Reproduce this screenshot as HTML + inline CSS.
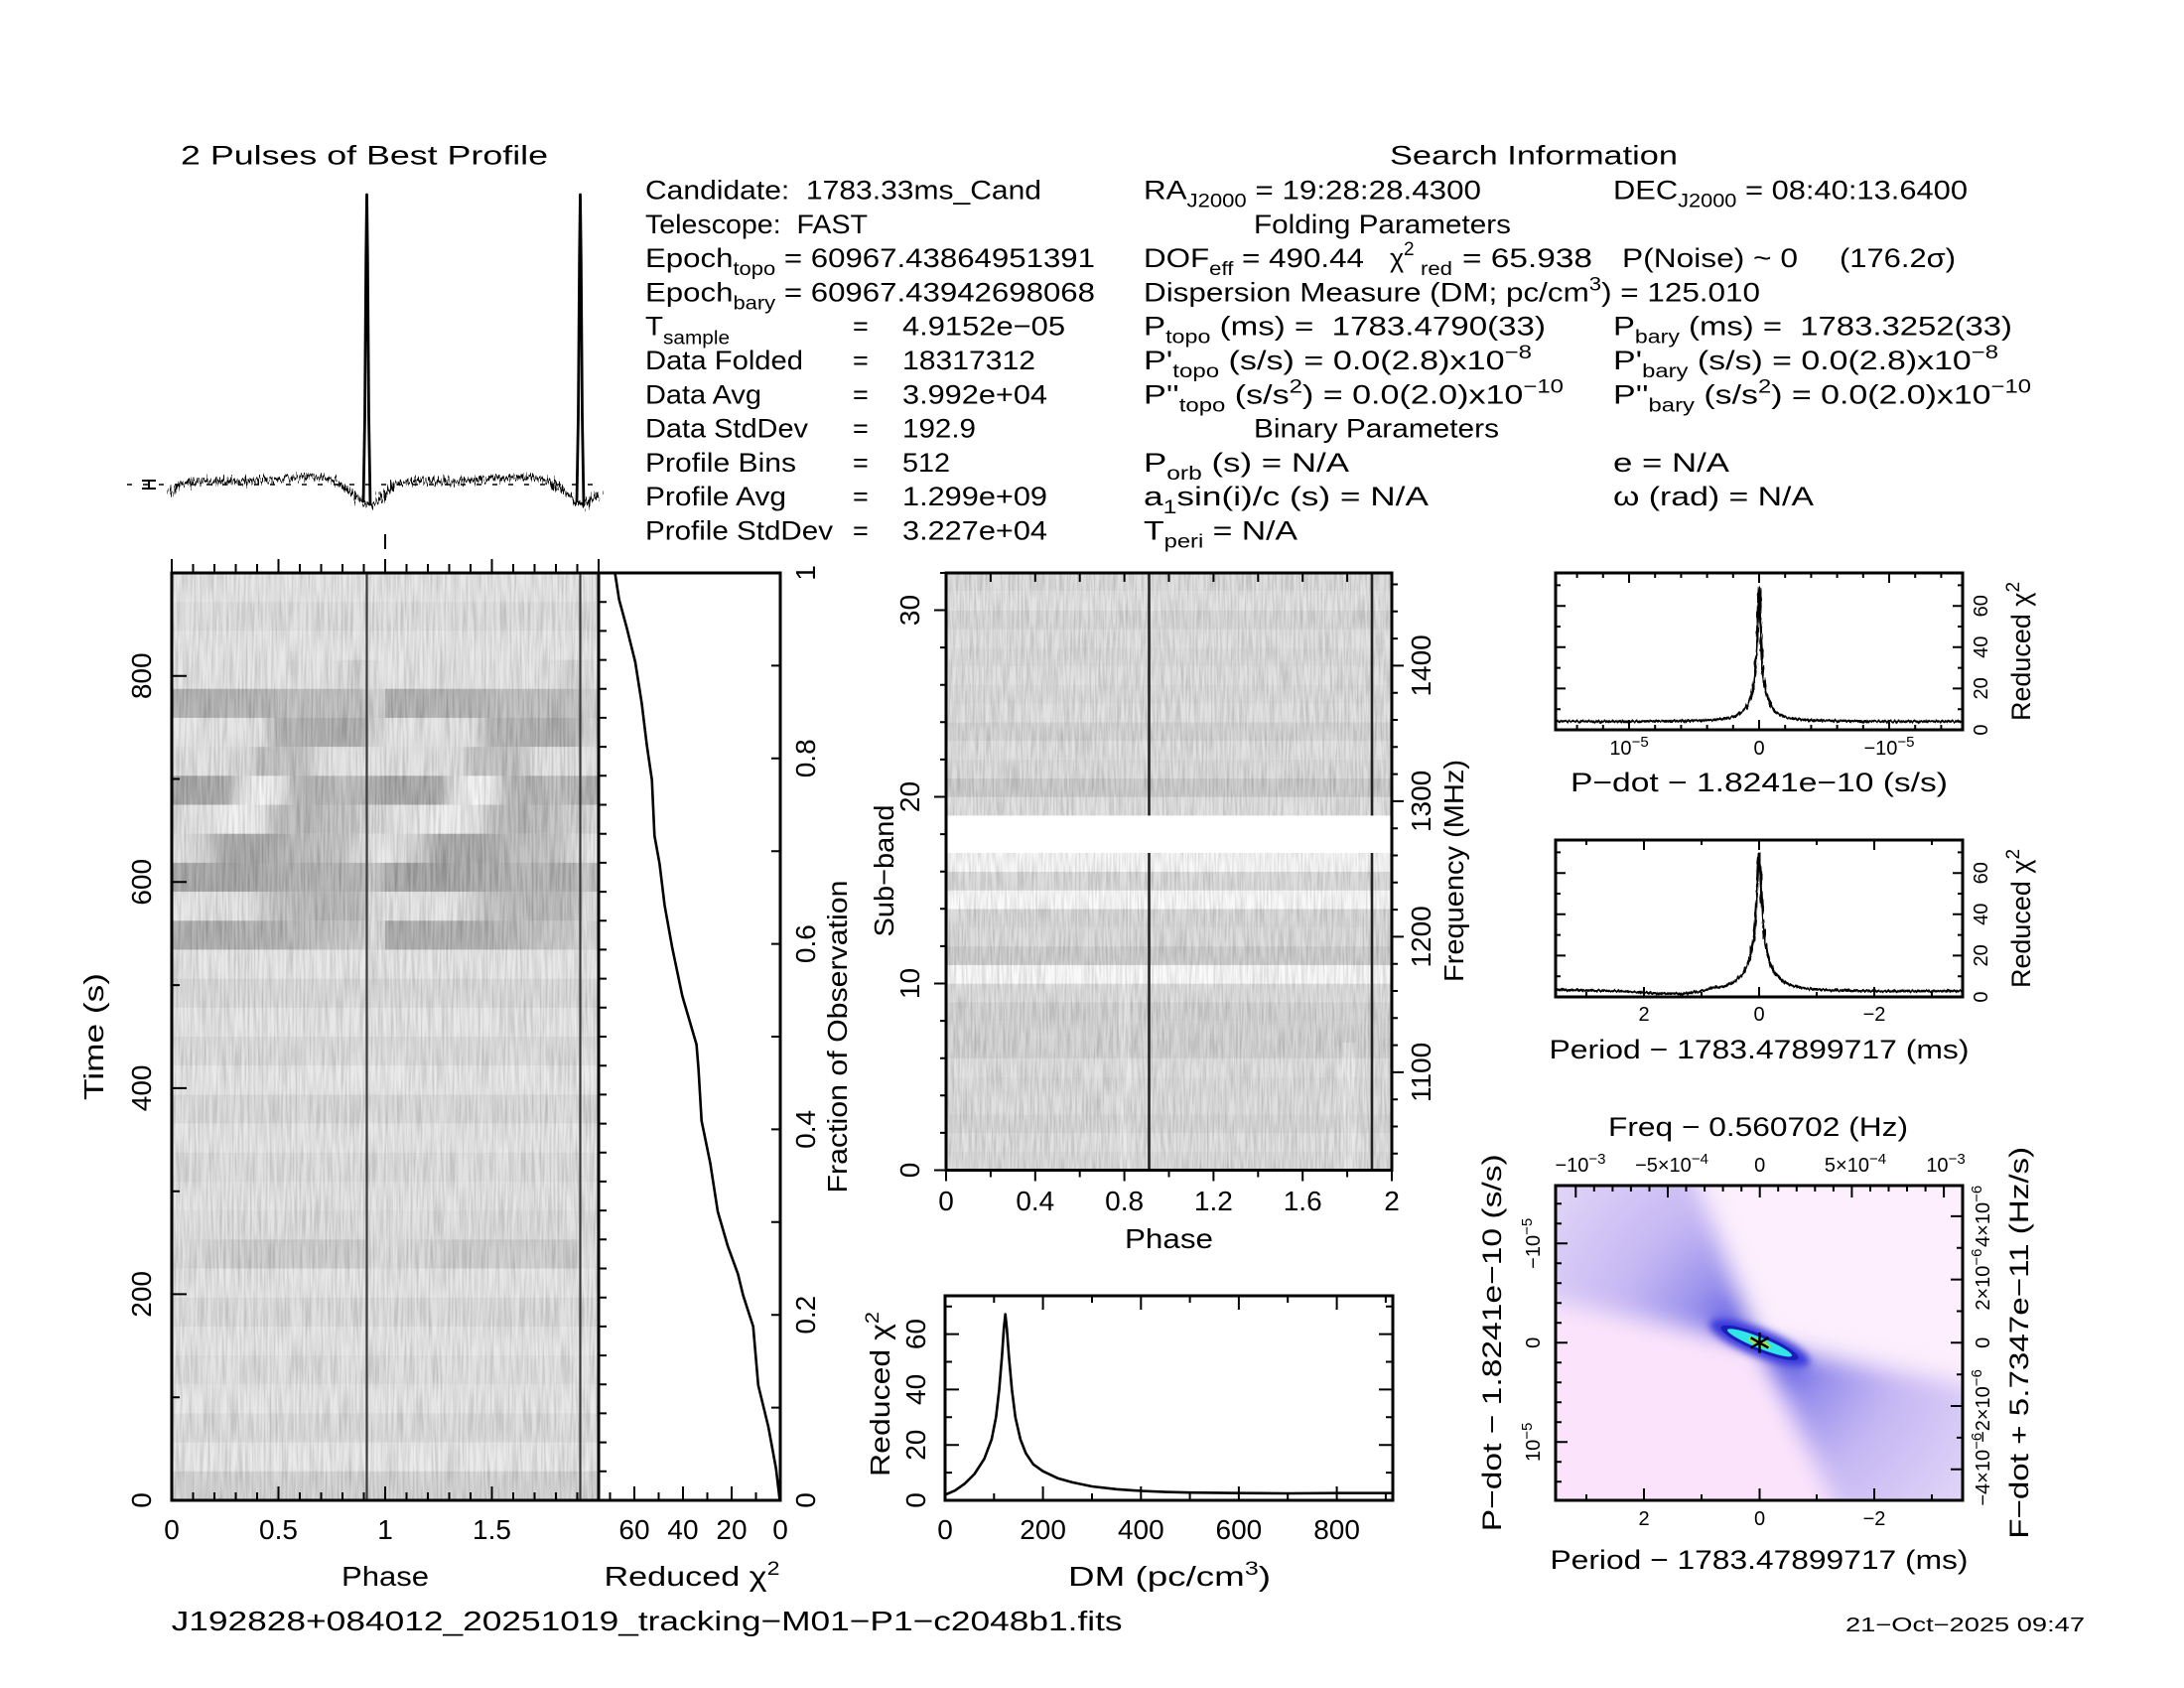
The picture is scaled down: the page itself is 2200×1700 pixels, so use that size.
<!DOCTYPE html>
<html><head><meta charset="utf-8">
<style>
html,body{margin:0;padding:0;background:#fff;}
svg{display:block;}
text{font-family:"Liberation Sans",sans-serif;white-space:pre;fill:#000;}
</style></head><body>
<svg width="2200" height="1700" viewBox="0 0 2200 1700" xmlns="http://www.w3.org/2000/svg">
<defs>
<filter id="stk" x="0" y="0" width="100%" height="100%" color-interpolation-filters="sRGB">
 <feTurbulence type="fractalNoise" baseFrequency="0.5 0.02" numOctaves="2" seed="11"/>
 <feColorMatrix type="matrix" values="1.3 0 0 0 0.15  1.3 0 0 0 0.15  1.3 0 0 0 0.15  0 0 0 0 0.22"/>
</filter>
<filter id="stk2" x="0" y="0" width="100%" height="100%" color-interpolation-filters="sRGB">
 <feTurbulence type="fractalNoise" baseFrequency="0.55 0.03" numOctaves="2" seed="5"/>
 <feColorMatrix type="matrix" values="1.3 0 0 0 0.15  1.3 0 0 0 0.15  1.3 0 0 0 0.15  0 0 0 0 0.22"/>
</filter>
<filter id="jit" x="-2%" y="-80%" width="104%" height="260%" color-interpolation-filters="sRGB">
 <feTurbulence type="fractalNoise" baseFrequency="0.6 0.08" numOctaves="2" seed="4" result="t"/>
 <feDisplacementMap in="SourceGraphic" in2="t" scale="17" xChannelSelector="G" yChannelSelector="R"/>
</filter>
<filter id="jit2" x="-2%" y="-60%" width="104%" height="220%" color-interpolation-filters="sRGB">
 <feTurbulence type="fractalNoise" baseFrequency="0.5 0.08" numOctaves="2" seed="9" result="t"/>
 <feDisplacementMap in="SourceGraphic" in2="t" scale="4" xChannelSelector="G" yChannelSelector="R"/>
</filter>
<filter id="blur8" x="-30%" y="-30%" width="160%" height="160%"><feGaussianBlur stdDeviation="12"/></filter>
<filter id="blur3" x="-30%" y="-60%" width="160%" height="220%"><feGaussianBlur stdDeviation="4"/></filter>
<clipPath id="cpc"><rect x="1567" y="1194" width="410" height="317"/></clipPath>
<radialGradient id="lobe" gradientUnits="userSpaceOnUse" cx="1772.5" cy="1352.3" r="280">
 <stop offset="0" stop-color="#2828d4"/>
 <stop offset="0.1" stop-color="#5454e0"/>
 <stop offset="0.25" stop-color="#968eec"/>
 <stop offset="0.5" stop-color="#c4b6f3"/>
 <stop offset="1" stop-color="#e6dbf8"/>
</radialGradient>
<linearGradient id="r3"><stop offset="0" stop-color="#e2e2e2"/><stop offset="0.75" stop-color="#dfdfdf"/><stop offset="0.85" stop-color="#d0d0d0"/><stop offset="0.9" stop-color="#d2d2d2"/><stop offset="1" stop-color="#dfdfdf"/></linearGradient>
<linearGradient id="r4"><stop offset="0" stop-color="#a2a2a2"/><stop offset="0.45" stop-color="#a9a9a9"/><stop offset="0.55" stop-color="#b6b6b6"/><stop offset="0.88" stop-color="#b2b2b2"/><stop offset="0.92" stop-color="#cccccc"/><stop offset="1" stop-color="#cccccc"/></linearGradient>
<linearGradient id="r5"><stop offset="0" stop-color="#e2e2e2"/><stop offset="0.42" stop-color="#dddddd"/><stop offset="0.5" stop-color="#a9a9a9"/><stop offset="0.88" stop-color="#9f9f9f"/><stop offset="0.92" stop-color="#cccccc"/><stop offset="1" stop-color="#d9d9d9"/></linearGradient>
<linearGradient id="r6"><stop offset="0" stop-color="#dfdfdf"/><stop offset="0.35" stop-color="#d9d9d9"/><stop offset="0.42" stop-color="#b6b6b6"/><stop offset="0.62" stop-color="#b9b9b9"/><stop offset="0.7" stop-color="#dddddd"/><stop offset="1" stop-color="#dddddd"/></linearGradient>
<linearGradient id="r7"><stop offset="0" stop-color="#959595"/><stop offset="0.25" stop-color="#9c9c9c"/><stop offset="0.32" stop-color="#d9d9d9"/><stop offset="0.42" stop-color="#f6f6f6"/><stop offset="0.5" stop-color="#e6e6e6"/><stop offset="0.58" stop-color="#b2b2b2"/><stop offset="0.7" stop-color="#a2a2a2"/><stop offset="0.8" stop-color="#b6b6b6"/><stop offset="0.9" stop-color="#a9a9a9"/><stop offset="1" stop-color="#999999"/></linearGradient>
<linearGradient id="r8"><stop offset="0" stop-color="#d9d9d9"/><stop offset="0.3" stop-color="#eeeeee"/><stop offset="0.42" stop-color="#e2e2e2"/><stop offset="0.5" stop-color="#bbbbbb"/><stop offset="0.65" stop-color="#a9a9a9"/><stop offset="0.82" stop-color="#bfbfbf"/><stop offset="0.9" stop-color="#cccccc"/><stop offset="1" stop-color="#d5d5d5"/></linearGradient>
<linearGradient id="r9"><stop offset="0" stop-color="#e2e2e2"/><stop offset="0.15" stop-color="#cccccc"/><stop offset="0.25" stop-color="#9c9c9c"/><stop offset="0.45" stop-color="#999999"/><stop offset="0.6" stop-color="#b2b2b2"/><stop offset="0.8" stop-color="#b9b9b9"/><stop offset="0.9" stop-color="#d9d9d9"/><stop offset="1" stop-color="#e6e6e6"/></linearGradient>
<linearGradient id="r10"><stop offset="0" stop-color="#999999"/><stop offset="0.3" stop-color="#959595"/><stop offset="0.5" stop-color="#a2a2a2"/><stop offset="0.7" stop-color="#a9a9a9"/><stop offset="0.88" stop-color="#a2a2a2"/><stop offset="0.93" stop-color="#c5c5c5"/><stop offset="1" stop-color="#a5a5a5"/></linearGradient>
<linearGradient id="r11"><stop offset="0" stop-color="#e2e2e2"/><stop offset="0.35" stop-color="#dfdfdf"/><stop offset="0.48" stop-color="#b9b9b9"/><stop offset="0.7" stop-color="#acacac"/><stop offset="0.88" stop-color="#b2b2b2"/><stop offset="0.93" stop-color="#d5d5d5"/><stop offset="1" stop-color="#dfdfdf"/></linearGradient>
<linearGradient id="r12"><stop offset="0" stop-color="#9f9f9f"/><stop offset="0.5" stop-color="#a5a5a5"/><stop offset="0.7" stop-color="#b9b9b9"/><stop offset="0.88" stop-color="#c3c3c3"/><stop offset="0.93" stop-color="#d9d9d9"/><stop offset="1" stop-color="#cccccc"/></linearGradient>
<linearGradient id="r23"><stop offset="0" stop-color="#dddddd"/><stop offset="0.35" stop-color="#c5c5c5"/><stop offset="0.88" stop-color="#c5c5c5"/><stop offset="0.93" stop-color="#d9d9d9"/><stop offset="1" stop-color="#d9d9d9"/></linearGradient>
<g id="rows">
 <rect x="0" y="577" width="215" height="29.4" fill="#e2e2e2"/>
 <rect x="0" y="606.19" width="215" height="29.4" fill="#dadada"/>
 <rect x="0" y="635.38" width="215" height="29.4" fill="#e2e2e2"/>
 <rect x="0" y="664.56" width="215" height="29.4" fill="url(#r3)"/>
 <rect x="0" y="693.75" width="215" height="29.4" fill="url(#r4)"/>
 <rect x="0" y="722.94" width="215" height="29.4" fill="url(#r5)"/>
 <rect x="0" y="752.13" width="215" height="29.4" fill="url(#r6)"/>
 <rect x="0" y="781.31" width="215" height="29.4" fill="url(#r7)"/>
 <rect x="0" y="810.5" width="215" height="29.4" fill="url(#r8)"/>
 <rect x="0" y="839.69" width="215" height="29.4" fill="url(#r9)"/>
 <rect x="0" y="868.88" width="215" height="29.4" fill="url(#r10)"/>
 <rect x="0" y="898.06" width="215" height="29.4" fill="url(#r11)"/>
 <rect x="0" y="927.25" width="215" height="29.4" fill="url(#r12)"/>
 <rect x="0" y="956.44" width="215" height="29.4" fill="#e2e2e2"/>
 <rect x="0" y="985.63" width="215" height="29.4" fill="#d5d5d5"/>
 <rect x="0" y="1014.81" width="215" height="29.4" fill="#e2e2e2"/>
 <rect x="0" y="1044" width="215" height="29.4" fill="#d7d7d7"/>
 <rect x="0" y="1073.19" width="215" height="29.4" fill="#e4e4e4"/>
 <rect x="0" y="1102.38" width="215" height="29.4" fill="#d5d5d5"/>
 <rect x="0" y="1131.56" width="215" height="29.4" fill="#e2e2e2"/>
 <rect x="0" y="1160.75" width="215" height="29.4" fill="#d9d9d9"/>
 <rect x="0" y="1189.94" width="215" height="29.4" fill="#dfdfdf"/>
 <rect x="0" y="1219.13" width="215" height="29.4" fill="#dadada"/>
 <rect x="0" y="1248.31" width="215" height="29.4" fill="url(#r23)"/>
 <rect x="0" y="1277.5" width="215" height="29.4" fill="#e2e2e2"/>
 <rect x="0" y="1306.69" width="215" height="29.4" fill="#d7d7d7"/>
 <rect x="0" y="1335.88" width="215" height="29.4" fill="#e2e2e2"/>
 <rect x="0" y="1365.06" width="215" height="29.4" fill="#dbdbdb"/>
 <rect x="0" y="1394.25" width="215" height="29.4" fill="#e2e2e2"/>
 <rect x="0" y="1423.44" width="215" height="29.4" fill="#d7d7d7"/>
 <rect x="0" y="1452.63" width="215" height="29.4" fill="#e4e4e4"/>
 <rect x="0" y="1481.81" width="215" height="29.19" fill="#cdcdcd"/>
</g>
</defs>
<rect width="2200" height="1700" fill="#fff"/>

<!-- ===== Left time-phase image ===== -->
<use href="#rows" x="173"/>
<use href="#rows" x="388"/>
<rect x="173" y="577" width="430" height="934" fill="#000" filter="url(#stk)"/>
<g stroke="#3a3a3a" stroke-width="2.2">
 <line x1="369.5" y1="577" x2="369.5" y2="1511"/>
 <line x1="584.5" y1="577" x2="584.5" y2="1511"/>
</g>

<!-- ===== Middle subband image ===== -->
<g>
 <rect x="953" y="1159.7" width="449" height="19" fill="#d5d5d5"/>
 <rect x="953" y="1140.91" width="449" height="19" fill="#dadada"/>
 <rect x="953" y="1122.11" width="449" height="19" fill="#d0d0d0"/>
 <rect x="953" y="1103.31" width="449" height="19" fill="#d7d7d7"/>
 <rect x="953" y="1084.52" width="449" height="19" fill="#d5d5d5"/>
 <rect x="953" y="1065.72" width="449" height="19" fill="#dadada"/>
 <rect x="953" y="1046.92" width="449" height="19" fill="#cbcbcb"/>
 <rect x="953" y="1028.12" width="449" height="19" fill="#cdcdcd"/>
 <rect x="953" y="1009.33" width="449" height="19" fill="#cbcbcb"/>
 <rect x="953" y="990.53" width="449" height="19" fill="#d7d7d7"/>
 <rect x="953" y="971.73" width="449" height="19" fill="#f9f9f9"/>
 <rect x="953" y="952.94" width="449" height="19" fill="#c5c5c5"/>
 <rect x="953" y="934.14" width="449" height="19" fill="#d5d5d5"/>
 <rect x="953" y="915.34" width="449" height="19" fill="#d2d2d2"/>
 <rect x="953" y="896.54" width="449" height="19" fill="#f9f9f9"/>
 <rect x="953" y="877.75" width="449" height="19" fill="#d5d5d5"/>
 <rect x="953" y="858.95" width="449" height="19" fill="#f6f6f6"/>
 <rect x="953" y="802.56" width="449" height="19" fill="#dadada"/>
 <rect x="953" y="783.76" width="449" height="19" fill="#c3c3c3"/>
 <rect x="953" y="764.97" width="449" height="19" fill="#d5d5d5"/>
 <rect x="953" y="746.17" width="449" height="19" fill="#dadada"/>
 <rect x="953" y="727.37" width="449" height="19" fill="#cdcdcd"/>
 <rect x="953" y="708.57" width="449" height="19" fill="#dadada"/>
 <rect x="953" y="689.78" width="449" height="19" fill="#d5d5d5"/>
 <rect x="953" y="670.98" width="449" height="19" fill="#dadada"/>
 <rect x="953" y="652.18" width="449" height="19" fill="#d5d5d5"/>
 <rect x="953" y="633.39" width="449" height="19" fill="#dadada"/>
 <rect x="953" y="614.59" width="449" height="19" fill="#d2d2d2"/>
 <rect x="953" y="595.79" width="449" height="19" fill="#dddddd"/>
 <rect x="953" y="577" width="449" height="18.8" fill="#d7d7d7"/>
</g>
<rect x="1127" y="990" width="12" height="188" fill="#fff" opacity="0.25"/>
<rect x="1352" y="1050" width="14" height="128" fill="#fff" opacity="0.3"/>
<rect x="953" y="577" width="449" height="601.5" fill="#000" filter="url(#stk2)"/>
<rect x="953" y="821.36" width="449" height="37.6" fill="#fff"/>
<g stroke="#222" stroke-width="2.6">
 <line x1="1157.5" y1="858.95" x2="1157.5" y2="1178.5"/>
 <line x1="1157.5" y1="577" x2="1157.5" y2="821.36"/>
 <line x1="1382" y1="858.95" x2="1382" y2="1178.5"/>
 <line x1="1382" y1="577" x2="1382" y2="821.36"/>
</g>

<!-- ===== Color ppdot panel ===== -->
<g clip-path="url(#cpc)">
 <rect x="1567" y="1194" width="410" height="317" fill="#fbe4fb"/>
 <g filter="url(#blur8)">
  <polygon points="1772.5,1352.3 1700,1170 2000,1170 2000,1392" fill="#fdeffd"/>
  <polygon points="1540,1170 1702,1170 1772.5,1352.3 1540,1305" fill="url(#lobe)"/>
  <polygon points="1772.5,1352.3 2000,1399 2000,1540 1860,1540" fill="url(#lobe)"/>
 </g>
 <g transform="translate(1772.5,1352.3) rotate(22)">
  <ellipse rx="54" ry="14" fill="#3838dc" filter="url(#blur3)"/>
  <ellipse rx="42" ry="8.5" fill="#1c1cb8"/>
  <ellipse rx="35" ry="5.5" fill="#30e6e6"/>
  <ellipse rx="12" ry="3.5" fill="#9ee650"/>
  <ellipse rx="5" ry="2.5" fill="#f0e040"/>
 </g>
 <g stroke="#000" stroke-width="2.5">
  <line x1="1772.5" y1="1342" x2="1772.5" y2="1362.6"/>
  <line x1="1763.6" y1="1347.2" x2="1781.4" y2="1357.4"/>
  <line x1="1763.6" y1="1357.4" x2="1781.4" y2="1347.2"/>
 </g>
</g>

<!-- ===== Panel frames ===== -->
<g fill="none" stroke="#000" stroke-width="3">
 <rect x="173" y="577" width="430" height="934"/>
 <rect x="603" y="577" width="183" height="934"/>
 <rect x="953" y="577" width="449" height="601.5"/>
 <rect x="952" y="1305" width="451" height="206"/>
 <rect x="1567" y="577" width="410" height="158"/>
 <rect x="1567" y="846" width="410" height="158"/>
 <rect x="1567" y="1194" width="410" height="317"/>
</g>

<!-- ===== Ticks ===== -->
<g fill="none" stroke="#000" stroke-width="2">
<path d="M173 577V563M194.5 577V568M216 577V568M237.5 577V568M259 577V568M280.5 577V563M302 577V568M323.5 577V568M345 577V568M366.5 577V568M388 577V563M409.5 577V568M431 577V568M452.5 577V568M474 577V568M495.5 577V563M517 577V568M538.5 577V568M560 577V568M581.5 577V568M603 577V563"/>
<path d="M194.5 1511V1503M216 1511V1503M237.5 1511V1503M259 1511V1503M280.5 1511V1497M302 1511V1503M323.5 1511V1503M345 1511V1503M366.5 1511V1503M388 1511V1497M409.5 1511V1503M431 1511V1503M452.5 1511V1503M474 1511V1503M495.5 1511V1497M517 1511V1503M538.5 1511V1503M560 1511V1503M581.5 1511V1503"/>
<path d="M173 1407.2H181M173 1303.4H188M173 1199.7H181M173 1095.9H188M173 992.1H181M173 888.3H188M173 784.5H181M173 680.8H188"/>
<path d="M761.5 1511V1503M737 1511V1497M712.5 1511V1503M688 1511V1497M663.5 1511V1503M639 1511V1497M614.5 1511V1503"/>
<path d="M603 606.2h8M603 635.4h8M603 664.6h8M603 693.8h8M603 722.9h8M603 752.1h8M603 781.3h8M603 810.5h8M603 839.7h8M603 868.9h8M603 898.1h8M603 927.3h8M603 956.4h8M603 985.6h8M603 1014.8h8M603 1044h8M603 1073.2h8M603 1102.4h8M603 1131.6h8M603 1160.8h8M603 1189.9h8M603 1219.1h8M603 1248.3h8M603 1277.5h8M603 1306.7h8M603 1335.9h8M603 1365.1h8M603 1394.3h8M603 1423.4h8M603 1452.6h8M603 1481.8h8"/>
<path d="M786 1417.6h-9M786 1324.2h-9M786 1230.8h-9M786 1137.4h-9M786 1044h-9M786 950.6h-9M786 857.2h-9M786 763.8h-9M786 670.4h-9"/>
<path d="M997.9 577v9M1042.8 577v9M1087.7 577v9M1132.6 577v9M1177.5 577v9M1222.4 577v9M1267.3 577v9M1312.2 577v9M1357.1 577v9"/>
<path d="M953 1178.5v11M997.9 1178.5v7M1042.8 1178.5v11M1087.7 1178.5v7M1132.6 1178.5v11M1177.5 1178.5v7M1222.4 1178.5v11M1267.3 1178.5v7M1312.2 1178.5v11M1357.1 1178.5v7M1402 1178.5v11"/>
<path d="M953 1178.5h-12M953 1140.9h-6M953 1103.3h-6M953 1065.7h-6M953 1028.1h-6M953 990.5h-12M953 952.9h-6M953 915.3h-6M953 877.7h-6M953 840.1h-6M953 802.5h-12M953 764.9h-6M953 727.3h-6M953 689.7h-6M953 652.1h-6M953 614.5h-12M953 577h-6"/>
<path d="M1402 1161.8h6M1402 1134.5h6M1402 1107.2h6M1402 1079.9h12M1402 1052.6h6M1402 1025.3h6M1402 998h6M1402 970.7h6M1402 943.4h12M1402 916.1h6M1402 888.8h6M1402 861.5h6M1402 834.2h6M1402 806.9h12M1402 779.6h6M1402 752.3h6M1402 725h6M1402 697.7h6M1402 670.4h12M1402 643.1h6M1402 615.8h6M1402 588.5h6"/>
<path d="M1001.3 1511v-7M1050.6 1511v-14M1100 1511v-7M1149.3 1511v-14M1198.6 1511v-7M1247.9 1511v-14M1297.2 1511v-7M1346.6 1511v-14M1395.9 1511v-7"/>
<path d="M1001.3 1305v7M1050.6 1305v14M1100 1305v7M1149.3 1305v14M1198.6 1305v7M1247.9 1305v14M1297.2 1305v7M1346.6 1305v14M1395.9 1305v7"/>
<path d="M952 1483.1h7M952 1455.2h14M952 1427.3h7M952 1399.4h14M952 1371.5h7M952 1343.6h14M952 1315.7h7"/>
<path d="M1403 1483.1h-7M1403 1455.2h-14M1403 1427.3h-7M1403 1399.4h-14M1403 1371.5h-7M1403 1343.6h-14M1403 1315.7h-7"/>
<path d="M1588.6 735v-5M1614.8 735v-5M1641 735v-10M1667.2 735v-5M1693.4 735v-5M1719.6 735v-5M1745.8 735v-5M1772 735v-10M1798.2 735v-5M1824.4 735v-5M1850.6 735v-5M1876.8 735v-5M1903 735v-10M1929.2 735v-5M1955.4 735v-5"/>
<path d="M1588.6 577v5M1614.8 577v5M1641 577v10M1667.2 577v5M1693.4 577v5M1719.6 577v5M1745.8 577v5M1772 577v10M1798.2 577v5M1824.4 577v5M1850.6 577v5M1876.8 577v5M1903 577v10M1929.2 577v5M1955.4 577v5"/>
<path d="M1567 714.2h5M1567 693.4h10M1567 672.6h5M1567 651.8h10M1567 631h5M1567 610.2h10M1567 589.4h5"/>
<path d="M1977 714.2h-5M1977 693.4h-10M1977 672.6h-5M1977 651.8h-10M1977 631h-5M1977 610.2h-10M1977 589.4h-5"/>
<path d="M1598 1004v-5M1656 1004v-10M1714 1004v-5M1772 1004v-10M1830 1004v-5M1888 1004v-10M1946 1004v-5"/>
<path d="M1598 846v5M1656 846v10M1714 846v5M1772 846v10M1830 846v5M1888 846v10M1946 846v5"/>
<path d="M1567 983.2h5M1567 962.4h10M1567 941.6h5M1567 920.8h10M1567 900h5M1567 879.2h10M1567 858.4h5"/>
<path d="M1977 983.2h-5M1977 962.4h-10M1977 941.6h-5M1977 920.8h-10M1977 900h-5M1977 879.2h-10M1977 858.4h-5"/>
<path d="M1598 1511v-6M1656 1511v-12M1714 1511v-6M1772.5 1511v-12M1830 1511v-6M1888 1511v-12M1946 1511v-6"/>
<path d="M1587.3 1194v12M1605.8 1194v6M1624.4 1194v6M1642.9 1194v6M1661.5 1194v6M1680 1194v12M1698.5 1194v6M1717.1 1194v6M1735.6 1194v6M1754.2 1194v6M1772.7 1194v12M1791.2 1194v6M1809.8 1194v6M1828.3 1194v6M1846.9 1194v6M1865.4 1194v12M1884 1194v6M1902.5 1194v6M1921 1194v6M1939.6 1194v6M1958.1 1194v12"/>
<path d="M1567 1212.3h6M1567 1232.3h6M1567 1252.3h12M1567 1272.3h6M1567 1292.3h6M1567 1312.3h6M1567 1332.3h6M1567 1352.3h12M1567 1372.3h6M1567 1392.3h6M1567 1412.3h6M1567 1432.3h6M1567 1452.3h12M1567 1472.3h6M1567 1492.3h6"/>
<path d="M1977 1224.9h-12M1977 1256.8h-6M1977 1288.6h-12M1977 1320.5h-6M1977 1352.3h-12M1977 1384.2h-6M1977 1416h-12M1977 1447.9h-6M1977 1479.7h-12"/>
<path d="M388 538V553"/>
</g>

<!-- ===== Profile ===== -->
<line x1="128" y1="488" x2="603" y2="488" stroke="#000" stroke-width="1.6" stroke-dasharray="5 11"/>
<path d="M143 484h14M143 492h14M150 484v8" stroke="#000" stroke-width="2" fill="none"/>
<path filter="url(#jit)" fill="none" stroke="#000" stroke-width="3.6" d="M173,499 L176,492 L180,488 L190,486 L207,484 L225,485 L243,485 L261,484 L275,483 L286,482 L300,481 L314,480 L322,479 L329,481 L336,484 L343,488 L350,493 L357,497 L362,503 L366,506 L369.5,507 L373,509 L377,506 L381,503 L386,500 L388,499 L391,492 L395,488 L405,486 L422,484 L440,485 L458,485 L476,484 L490,483 L501,482 L515,481 L529,480 L537,479 L544,481 L551,484 L558,488 L565,493 L572,497 L577,503 L581,506 L584.5,507 L588,509 L592,506 L596,503 L601,500 L603,499"/>
<path fill="none" stroke="#000" stroke-width="2.8" stroke-linejoin="round" d="M366,506 L367.5,420 L368.7,260 L369.5,196 L370.3,260 L371.5,420 L373,509 M581,506 L582.5,420 L583.7,260 L584.5,196 L585.3,260 L586.5,420 L588,509"/>

<!-- ===== Curves ===== -->
<g fill="none" stroke="#000" stroke-width="2.6" stroke-linejoin="round">
<path d="M619.5,577 L623.6,603.6 L631.2,631.7 L639.9,666.7 L646.5,708.6 L651.6,750.6 L656.7,785.5 L659.3,841.7 L664.4,869.8 L669.5,911.8 L677.1,954.1 L687.3,1003 L701.6,1051.9 L703.6,1076.4 L706.7,1128.7 L715.4,1171.1 L723,1220.1 L733.2,1255.2 L743.4,1283.2 L748.5,1304.3 L758.7,1335.9 L763.8,1395.1 L774,1437 L781.7,1478.9 L785.5,1511"/>
<path d="M952,1505.4 L961.9,1501.2 L971.7,1494.3 L981.6,1484.5 L991.5,1469.2 L998.9,1449.6 L1003.3,1427.3 L1006.5,1399.4 L1009.3,1365.9 L1011.2,1338 L1012.7,1323.5 L1014.2,1338 L1016.3,1365.9 L1019.3,1399.4 L1022.8,1427.3 L1027.9,1449.6 L1033.4,1463.6 L1040.8,1474.7 L1050.6,1481.7 L1065.4,1488.7 L1080.2,1492.9 L1100,1497 L1124.6,1499.8 L1149.3,1501.5 L1173.9,1502.6 L1198.6,1503.2 L1247.9,1503.7 L1297.2,1504 L1346.6,1503.7 L1403,1503.7"/>
<path filter="url(#jit2)" d="M1567,726.5 L1652,726.5 L1692,726.1 L1722,725.3 L1740,723.5 L1748,721.4 L1756,716.3 L1760,711.1 L1764,701.5 L1766,693.3 L1768,679 L1769,666 L1770,644.7 L1771,612.6 L1772,591.5 L1773,612.6 L1774,644.7 L1775,666 L1776,679 L1778,693.3 L1780,701.5 L1784,711.1 L1788,716.3 L1796,721.4 L1804,723.5 L1822,725.3 L1852,726.1 L1892,726.5 L1977,726.5"/>
<path filter="url(#jit2)" d="M1567,997 L1630,998 L1670,1000.5 L1695,1000.8 L1712,998.5 L1722,995.9 L1740,992.3 L1748,988.2 L1756,979.9 L1760,972.4 L1764,959.3 L1766,948 L1768,928.7 L1769,913 L1770,892.1 L1771,870 L1772,859.4 L1773,870 L1774,892.1 L1775,913 L1776,928.7 L1778,948 L1780,959.3 L1784,972.4 L1788,979.9 L1796,988.2 L1804,992.3 L1822,995.9 L1852,997.6 L1900,998.2 L1977,998"/>
</g>

<!-- ===== Header text ===== -->
<g font-size="27">
<text x="182" y="165.5" textLength="370" lengthAdjust="spacingAndGlyphs">2 Pulses of Best Profile</text>
<text x="1400" y="165.5" textLength="290" lengthAdjust="spacingAndGlyphs">Search Information</text>

<text x="650" y="200.5" textLength="399" lengthAdjust="spacingAndGlyphs">Candidate:  1783.33ms_Cand</text>
<text x="650" y="234.8" textLength="224" lengthAdjust="spacingAndGlyphs">Telescope:  FAST</text>
<text x="650" y="269.1" textLength="453" lengthAdjust="spacingAndGlyphs">Epoch<tspan font-size="19" dy="8">topo</tspan><tspan dy="-8"> = 60967.43864951391</tspan></text>
<text x="650" y="303.4" textLength="453" lengthAdjust="spacingAndGlyphs">Epoch<tspan font-size="19" dy="8">bary</tspan><tspan dy="-8"> = 60967.43942698068</tspan></text>
<text x="650" y="337.7" textLength="85" lengthAdjust="spacingAndGlyphs">T<tspan font-size="19" dy="9">sample</tspan></text>
<text x="650" y="372" textLength="159" lengthAdjust="spacingAndGlyphs">Data Folded</text>
<text x="650" y="406.3" textLength="117" lengthAdjust="spacingAndGlyphs">Data Avg</text>
<text x="650" y="440.6" textLength="164" lengthAdjust="spacingAndGlyphs">Data StdDev</text>
<text x="650" y="474.9" textLength="152" lengthAdjust="spacingAndGlyphs">Profile Bins</text>
<text x="650" y="509.2" textLength="142" lengthAdjust="spacingAndGlyphs">Profile Avg</text>
<text x="650" y="543.5" textLength="189" lengthAdjust="spacingAndGlyphs">Profile StdDev</text>
<text x="859" y="337.7">=</text>
<text x="859" y="372">=</text>
<text x="859" y="406.3">=</text>
<text x="859" y="440.6">=</text>
<text x="859" y="474.9">=</text>
<text x="859" y="509.2">=</text>
<text x="859" y="543.5">=</text>
<text x="909" y="337.7" textLength="164" lengthAdjust="spacingAndGlyphs">4.9152e−05</text>
<text x="909" y="372" textLength="134" lengthAdjust="spacingAndGlyphs">18317312</text>
<text x="909" y="406.3" textLength="146" lengthAdjust="spacingAndGlyphs">3.992e+04</text>
<text x="909" y="440.6" textLength="74" lengthAdjust="spacingAndGlyphs">192.9</text>
<text x="909" y="474.9" textLength="48" lengthAdjust="spacingAndGlyphs">512</text>
<text x="909" y="509.2" textLength="146" lengthAdjust="spacingAndGlyphs">1.299e+09</text>
<text x="909" y="543.5" textLength="146" lengthAdjust="spacingAndGlyphs">3.227e+04</text>

<text x="1152" y="200.5" textLength="340" lengthAdjust="spacingAndGlyphs">RA<tspan font-size="19" dy="8">J2000</tspan><tspan dy="-8"> = 19:28:28.4300</tspan></text>
<text x="1263" y="234.8" textLength="259" lengthAdjust="spacingAndGlyphs">Folding Parameters</text>
<text x="1152" y="269.1" textLength="222" lengthAdjust="spacingAndGlyphs">DOF<tspan font-size="19" dy="8">eff</tspan><tspan dy="-8"> = 490.44</tspan></text>
<text x="1400" y="269.1">χ</text>
<text x="1414" y="257" font-size="19">2</text>
<text x="1431" y="277" font-size="19" textLength="32" lengthAdjust="spacingAndGlyphs">red</text>
<text x="1473" y="269.1" textLength="131" lengthAdjust="spacingAndGlyphs">= 65.938</text>
<text x="1634" y="269.1" textLength="177" lengthAdjust="spacingAndGlyphs">P(Noise) ~ 0</text>
<text x="1853" y="269.1" textLength="117" lengthAdjust="spacingAndGlyphs">(176.2σ)</text>
<text x="1152" y="303.4" textLength="621" lengthAdjust="spacingAndGlyphs">Dispersion Measure (DM; pc/cm<tspan font-size="19" dy="-11">3</tspan><tspan dy="11">) = 125.010</tspan></text>
<text x="1152" y="337.7" textLength="405" lengthAdjust="spacingAndGlyphs">P<tspan font-size="19" dy="8">topo</tspan><tspan dy="-8"> (ms) =  1783.4790(33)</tspan></text>
<text x="1152" y="372" textLength="391" lengthAdjust="spacingAndGlyphs">P'<tspan font-size="19" dy="8">topo</tspan><tspan dy="-8"> (s/s) = 0.0(2.8)x10</tspan><tspan font-size="19" dy="-11">−8</tspan></text>
<text x="1152" y="406.3" textLength="423" lengthAdjust="spacingAndGlyphs">P''<tspan font-size="19" dy="8">topo</tspan><tspan dy="-8"> (s/s</tspan><tspan font-size="19" dy="-11">2</tspan><tspan dy="11">) = 0.0(2.0)x10</tspan><tspan font-size="19" dy="-11">−10</tspan></text>
<text x="1263" y="440.6" textLength="247" lengthAdjust="spacingAndGlyphs">Binary Parameters</text>
<text x="1152" y="474.9" textLength="207" lengthAdjust="spacingAndGlyphs">P<tspan font-size="19" dy="8">orb</tspan><tspan dy="-8"> (s) = N/A</tspan></text>
<text x="1152" y="509.2" textLength="287" lengthAdjust="spacingAndGlyphs">a<tspan font-size="19" dy="8">1</tspan><tspan dy="-8">sin(i)/c (s) = N/A</tspan></text>
<text x="1152" y="543.5" textLength="155" lengthAdjust="spacingAndGlyphs">T<tspan font-size="19" dy="8">peri</tspan><tspan dy="-8"> = N/A</tspan></text>

<text x="1625" y="200.5" textLength="357" lengthAdjust="spacingAndGlyphs">DEC<tspan font-size="19" dy="8">J2000</tspan><tspan dy="-8"> = 08:40:13.6400</tspan></text>
<text x="1625" y="337.7" textLength="402" lengthAdjust="spacingAndGlyphs">P<tspan font-size="19" dy="8">bary</tspan><tspan dy="-8"> (ms) =  1783.3252(33)</tspan></text>
<text x="1625" y="372" textLength="388" lengthAdjust="spacingAndGlyphs">P'<tspan font-size="19" dy="8">bary</tspan><tspan dy="-8"> (s/s) = 0.0(2.8)x10</tspan><tspan font-size="19" dy="-11">−8</tspan></text>
<text x="1625" y="406.3" textLength="421" lengthAdjust="spacingAndGlyphs">P''<tspan font-size="19" dy="8">bary</tspan><tspan dy="-8"> (s/s</tspan><tspan font-size="19" dy="-11">2</tspan><tspan dy="11">) = 0.0(2.0)x10</tspan><tspan font-size="19" dy="-11">−10</tspan></text>
<text x="1625" y="474.9" textLength="117" lengthAdjust="spacingAndGlyphs">e = N/A</text>
<text x="1625" y="509.2" textLength="202" lengthAdjust="spacingAndGlyphs">ω (rad) = N/A</text>
</g>

<!-- ===== Axis labels: left / middle / DM ===== -->
<g font-size="28">
<g text-anchor="middle">
 <text x="173" y="1550">0</text>
 <text x="280.5" y="1550">0.5</text>
 <text x="388" y="1550">1</text>
 <text x="495.5" y="1550">1.5</text>
 <text x="639" y="1550">60</text>
 <text x="688" y="1550">40</text>
 <text x="737" y="1550">20</text>
 <text x="786" y="1550">0</text>
 <text x="388" y="1597" textLength="88" lengthAdjust="spacingAndGlyphs">Phase</text>
 <text x="697" y="1597" textLength="177" lengthAdjust="spacingAndGlyphs">Reduced χ<tspan font-size="19" dy="-11">2</tspan></text>
 <text transform="translate(152,1511) rotate(-90)">0</text>
 <text transform="translate(152,1303.4) rotate(-90)">200</text>
 <text transform="translate(152,1095.9) rotate(-90)">400</text>
 <text transform="translate(152,888.3) rotate(-90)">600</text>
 <text transform="translate(152,680.8) rotate(-90)">800</text>
 <text transform="translate(104,1044) rotate(-90)" textLength="128" lengthAdjust="spacingAndGlyphs">Time (s)</text>
 <text transform="translate(821,1511) rotate(-90)">0</text>
 <text transform="translate(821,1324.2) rotate(-90)">0.2</text>
 <text transform="translate(821,1137.4) rotate(-90)">0.4</text>
 <text transform="translate(821,950.6) rotate(-90)">0.6</text>
 <text transform="translate(821,763.8) rotate(-90)">0.8</text>
 <text transform="translate(821,577) rotate(-90)">1</text>
 <text transform="translate(853,1044) rotate(-90)" textLength="315" lengthAdjust="spacingAndGlyphs">Fraction of Observation</text>

 <text x="953" y="1219">0</text>
 <text x="1042.8" y="1219">0.4</text>
 <text x="1132.6" y="1219">0.8</text>
 <text x="1222.4" y="1219">1.2</text>
 <text x="1312.2" y="1219">1.6</text>
 <text x="1402" y="1219">2</text>
 <text x="1177.5" y="1257" textLength="89" lengthAdjust="spacingAndGlyphs">Phase</text>
 <text transform="translate(926,1178.5) rotate(-90)">0</text>
 <text transform="translate(926,990.5) rotate(-90)">10</text>
 <text transform="translate(926,802.5) rotate(-90)">20</text>
 <text transform="translate(926,614.5) rotate(-90)">30</text>
 <text transform="translate(900,877) rotate(-90)" textLength="133" lengthAdjust="spacingAndGlyphs">Sub−band</text>
 <text transform="translate(1441,1079.9) rotate(-90)">1100</text>
 <text transform="translate(1441,943.4) rotate(-90)">1200</text>
 <text transform="translate(1441,806.9) rotate(-90)">1300</text>
 <text transform="translate(1441,670.4) rotate(-90)">1400</text>
 <text transform="translate(1474,877) rotate(-90)" textLength="224" lengthAdjust="spacingAndGlyphs">Frequency (MHz)</text>

 <text x="952" y="1550">0</text>
 <text x="1050.6" y="1550">200</text>
 <text x="1149.3" y="1550">400</text>
 <text x="1247.9" y="1550">600</text>
 <text x="1346.6" y="1550">800</text>
 <text x="1178" y="1597" textLength="204" lengthAdjust="spacingAndGlyphs">DM (pc/cm<tspan font-size="19" dy="-11">3</tspan><tspan dy="11">)</tspan></text>
 <text transform="translate(932,1511) rotate(-90)">0</text>
 <text transform="translate(932,1455.2) rotate(-90)">20</text>
 <text transform="translate(932,1399.4) rotate(-90)">40</text>
 <text transform="translate(932,1343.6) rotate(-90)">60</text>
 <text transform="translate(896,1404) rotate(-90)" textLength="166" lengthAdjust="spacingAndGlyphs">Reduced χ<tspan font-size="19" dy="-11">2</tspan></text>
</g>
<text x="172.6" y="1642" textLength="958" lengthAdjust="spacingAndGlyphs">J192828+084012_20251019_tracking−M01−P1−c2048b1.fits</text>
</g>
<text x="1859" y="1643" font-size="20" textLength="241" lengthAdjust="spacingAndGlyphs">21−Oct−2025 09:47</text>

<!-- ===== Right panel labels ===== -->
<g font-size="20" text-anchor="middle">
 <text x="1641" y="760">10<tspan font-size="15" dy="-8">−5</tspan></text>
 <text x="1772" y="760">0</text>
 <text x="1903" y="760">−10<tspan font-size="15" dy="-8">−5</tspan></text>
 <text transform="translate(2002,735) rotate(-90)">0</text>
 <text transform="translate(2002,693.4) rotate(-90)">20</text>
 <text transform="translate(2002,651.8) rotate(-90)">40</text>
 <text transform="translate(2002,610.2) rotate(-90)">60</text>

 <text x="1656" y="1028">2</text>
 <text x="1772" y="1028">0</text>
 <text x="1888" y="1028">−2</text>
 <text transform="translate(2002,1004) rotate(-90)">0</text>
 <text transform="translate(2002,962.4) rotate(-90)">20</text>
 <text transform="translate(2002,920.8) rotate(-90)">40</text>
 <text transform="translate(2002,879.2) rotate(-90)">60</text>

 <text x="1592" y="1180">−10<tspan font-size="15" dy="-8">−3</tspan></text>
 <text x="1684" y="1180">−5×10<tspan font-size="15" dy="-8">−4</tspan></text>
 <text x="1772.7" y="1180">0</text>
 <text x="1869" y="1180">5×10<tspan font-size="15" dy="-8">−4</tspan></text>
 <text x="1960" y="1180">10<tspan font-size="15" dy="-8">−3</tspan></text>
 <text x="1656" y="1536">2</text>
 <text x="1772.5" y="1536">0</text>
 <text x="1888" y="1536">−2</text>
 <text transform="translate(1551,1252.3) rotate(-90)">−10<tspan font-size="15" dy="-8">−5</tspan></text>
 <text transform="translate(1551,1352.3) rotate(-90)">0</text>
 <text transform="translate(1551,1452.3) rotate(-90)">10<tspan font-size="15" dy="-8">−5</tspan></text>
 <text transform="translate(2004,1224.9) rotate(-90)">4×10<tspan font-size="15" dy="-8">−6</tspan></text>
 <text transform="translate(2004,1288.6) rotate(-90)">2×10<tspan font-size="15" dy="-8">−6</tspan></text>
 <text transform="translate(2004,1352.3) rotate(-90)">0</text>
 <text transform="translate(2004,1416) rotate(-90)">−2×10<tspan font-size="15" dy="-8">−6</tspan></text>
 <text transform="translate(2004,1479.7) rotate(-90)">−4×10<tspan font-size="15" dy="-8">−6</tspan></text>
</g>
<g font-size="27" text-anchor="middle">
 <text x="1772" y="797" textLength="380" lengthAdjust="spacingAndGlyphs">P−dot − 1.8241e−10 (s/s)</text>
 <text transform="translate(2045,656) rotate(-90)" textLength="140" lengthAdjust="spacingAndGlyphs">Reduced χ<tspan font-size="19" dy="-11">2</tspan></text>
 <text x="1772" y="1066" textLength="423" lengthAdjust="spacingAndGlyphs">Period − 1783.47899717 (ms)</text>
 <text transform="translate(2045,925) rotate(-90)" textLength="140" lengthAdjust="spacingAndGlyphs">Reduced χ<tspan font-size="19" dy="-11">2</tspan></text>
 <text x="1771" y="1144" textLength="302" lengthAdjust="spacingAndGlyphs">Freq − 0.560702 (Hz)</text>
 <text x="1772" y="1580" textLength="421" lengthAdjust="spacingAndGlyphs">Period − 1783.47899717 (ms)</text>
 <text transform="translate(1512,1352.3) rotate(-90)" textLength="380" lengthAdjust="spacingAndGlyphs">P−dot − 1.8241e−10 (s/s)</text>
 <text transform="translate(2043,1352.3) rotate(-90)" textLength="395" lengthAdjust="spacingAndGlyphs">F−dot + 5.7347e−11 (Hz/s)</text>
</g>
</svg>
</body></html>
